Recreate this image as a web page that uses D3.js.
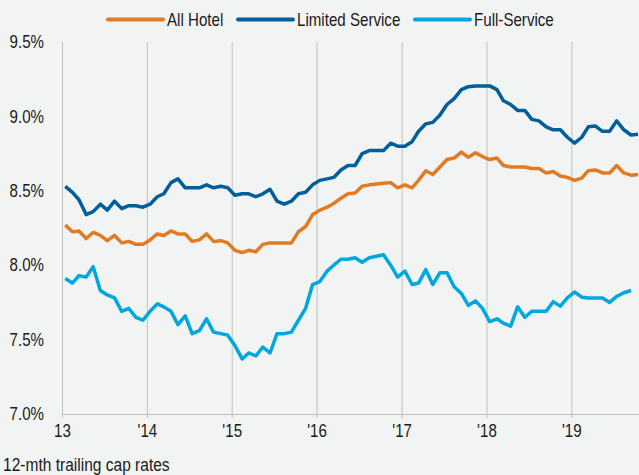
<!DOCTYPE html>
<html>
<head>
<meta charset="utf-8">
<script src="https://cdn.jsdelivr.net/npm/d3@7"></script>
<style>
  html, body { margin: 0; padding: 0; background: #f2f4f3; }
  svg { display: block; font-family: "Liberation Sans", Arial, sans-serif; }
  .axis path, .axis line { stroke: #bfbfbf; }
  .axis text { fill: #1a1a1a; font-size: 18px; font-family: "Liberation Sans", Arial, sans-serif; }
</style>
</head>
<body>
<div id="chart"></div>
<script>
// cap rate lines, Jan 2013 - Oct 2019

const width = 639,
    height = 475,
    margin = ({ top: 42, right: 0, bottom: 61, left: 62 });

const seriesNames = ["All Hotel", "Limited Service", "Full-Service"];
const seriesColors = ["#e07b24", "#005f9b", "#00a6e0"];
const yearTicks = [2013, 2014, 2015, 2016, 2017, 2018, 2019];
const yearLabels = ["13", "'14", "'15", "'16", "'17", "'18", "'19"];
const yTicks = [7.0, 7.5, 8.0, 8.5, 9.0, 9.5];

const allHotel = [
    8.27, 8.225, 8.23, 8.18, 8.22, 8.20, 8.165, 8.20, 8.15, 8.16, 8.14, 8.14,
    8.17, 8.21, 8.20, 8.23, 8.21, 8.21, 8.16, 8.17, 8.21, 8.16, 8.165, 8.15,
    8.10, 8.085, 8.10, 8.09, 8.14, 8.15, 8.15, 8.15, 8.15, 8.225, 8.26, 8.34,
    8.37, 8.39, 8.415, 8.45, 8.48, 8.485, 8.53, 8.54, 8.545, 8.55, 8.555, 8.52,
    8.54, 8.52, 8.57, 8.635, 8.61, 8.66, 8.71, 8.72, 8.76, 8.725, 8.755, 8.73,
    8.71, 8.72, 8.67, 8.66, 8.66, 8.66, 8.65, 8.65, 8.62, 8.63, 8.60, 8.59,
    8.57, 8.585, 8.635, 8.64, 8.62, 8.62, 8.67, 8.62, 8.605, 8.61
];
const limitedService = [
    8.53, 8.49, 8.44, 8.34, 8.36, 8.41, 8.37, 8.43, 8.38, 8.40, 8.40, 8.39,
    8.41, 8.46, 8.48, 8.555, 8.58, 8.52, 8.52, 8.52, 8.54, 8.52, 8.53, 8.52,
    8.47, 8.48, 8.48, 8.46, 8.48, 8.51, 8.43, 8.41, 8.43, 8.48, 8.49, 8.54,
    8.57, 8.58, 8.59, 8.64, 8.67, 8.67, 8.75, 8.77, 8.77, 8.77, 8.82, 8.80,
    8.80, 8.83, 8.90, 8.95, 8.96, 9.01, 9.08, 9.12, 9.18, 9.20, 9.205, 9.205,
    9.205, 9.18, 9.105, 9.08, 9.04, 9.04, 8.98, 8.97, 8.93, 8.91, 8.91, 8.86,
    8.82, 8.86, 8.93, 8.935, 8.90, 8.90, 8.97, 8.91, 8.875, 8.88
];
const fullService = [
    7.91, 7.88, 7.93, 7.92, 7.99, 7.83, 7.80, 7.78, 7.69, 7.71, 7.65, 7.63,
    7.69, 7.74, 7.72, 7.69, 7.60, 7.66, 7.54, 7.56, 7.64, 7.55, 7.54, 7.53,
    7.46, 7.37, 7.41, 7.39, 7.45, 7.41, 7.54, 7.54, 7.55, 7.63, 7.71, 7.87,
    7.89, 7.96, 8.00, 8.04, 8.04, 8.05, 8.02, 8.05, 8.06, 8.07, 8.00, 7.92,
    7.96, 7.87, 7.88, 7.97, 7.87, 7.95, 7.95, 7.855, 7.81, 7.73, 7.76, 7.71,
    7.62, 7.64, 7.61, 7.59, 7.72, 7.65, 7.69, 7.69, 7.69, 7.755, 7.725, 7.78,
    7.82, 7.785, 7.78, 7.78, 7.78, 7.75, 7.79, 7.815, 7.83
];

// one point per month, plotted mid-month
const months = d3.timeMonth.range(new Date(2013, 0, 1), new Date(2019, 10, 1))
    .map(d => d3.timeDay.offset(d, 14));

const series = [allHotel, limitedService, fullService].map((vals, i) => ({
    name: seriesNames[i],
    color: seriesColors[i],
    values: vals.map((v, j) => ({ date: months[j], value: v }))
}));

const squeeze = 0.84; // no narrow font installed, so squeeze Liberation Sans horizontally

const svg = d3.select("#chart")
    .append("svg")
    .attr("width", width)
    .attr("height", height);

const yearSpan = 84.88; // px per year, from tick spacing
let x = d3.scaleTime()
    .domain([new Date(2013, 0, 1), new Date(2020, 0, 1)])
    .range([margin.left, margin.left + 7 * yearSpan]);

let y = d3.scaleLinear()
    .domain([7, 9.5])
    .range([height - margin.bottom, margin.top]);

const plotH = (height - margin.bottom) - margin.top;

// vertical gridlines at each year
svg.append("g")
    .attr("class", "axis grid")
    .attr("transform", `translate(0,${height - margin.bottom})`)
    .call(d3.axisBottom(x)
        .tickValues(yearTicks.map(yr => new Date(yr, 0, 1)))
        .tickSize(-plotH)
        .tickFormat(""))
    .call(g => g.select(".domain").remove());

// x axis with short ticks below and labels
svg.append("g")
    .attr("class", "axis x-axis")
    .attr("transform", `translate(0,${height - margin.bottom})`)
    .call(d3.axisBottom(x)
        .tickValues(yearTicks.map(yr => new Date(yr, 0, 1)))
        .tickSize(4)
        .tickSizeOuter(0)
        .tickPadding(6)
        .tickFormat((d, i) => yearLabels[i]))
    .call(g => g.select(".domain").attr("d", `M${margin.left},0.5H${width}`))
    .call(g => g.selectAll("text").attr("transform", `scale(${squeeze},1)`));

// y axis: line only, labels to the left
svg.append("g")
    .attr("class", "axis y-axis")
    .attr("transform", `translate(${margin.left},0)`)
    .call(d3.axisLeft(y)
        .tickValues(yTicks)
        .tickSize(0)
        .tickFormat(d => d3.format(".1f")(d) + "%"))
    .call(g => g.select(".domain").attr("d", `M0.5,${margin.top}V${height - margin.bottom + 4}`))
    .call(g => g.selectAll("text")
        .attr("x", -18 / squeeze)
        .attr("transform", `scale(${squeeze},1)`));

let line = d3.line()
    .x(d => x(d.date))
    .y(d => y(d.value));

svg.append("g")
    .selectAll("path")
    .data(series)
    .join("path")
    .attr("d", d => line(d.values))
    .attr("fill", "none")
    .attr("stroke", d => d.color)
    .attr("stroke-width", 3.5)
    .attr("stroke-linejoin", "round");

// legend
const legendX = [108, 238, 415];
const legend = svg.append("g")
    .selectAll("g")
    .data(series)
    .join("g")
    .attr("transform", (d, i) => `translate(${legendX[i]},19.5)`);

legend.append("line")
    .attr("x1", 0).attr("x2", 55)
    .attr("stroke", d => d.color)
    .attr("stroke-width", 4)
    .attr("stroke-linecap", "round");

legend.append("text")
    .attr("transform", `translate(59,0) scale(${squeeze},1)`)
    .attr("dy", "0.35em")
    .attr("font-size", 18)
    .attr("fill", "#1a1a1a")
    .text(d => d.name);

svg.append("text")
    .attr("transform", `translate(3,471) scale(${squeeze},1)`)
    .attr("font-size", 18.5)
    .attr("fill", "#1a1a1a")
    .text("12-mth trailing cap rates");
</script>
</body>
</html>
